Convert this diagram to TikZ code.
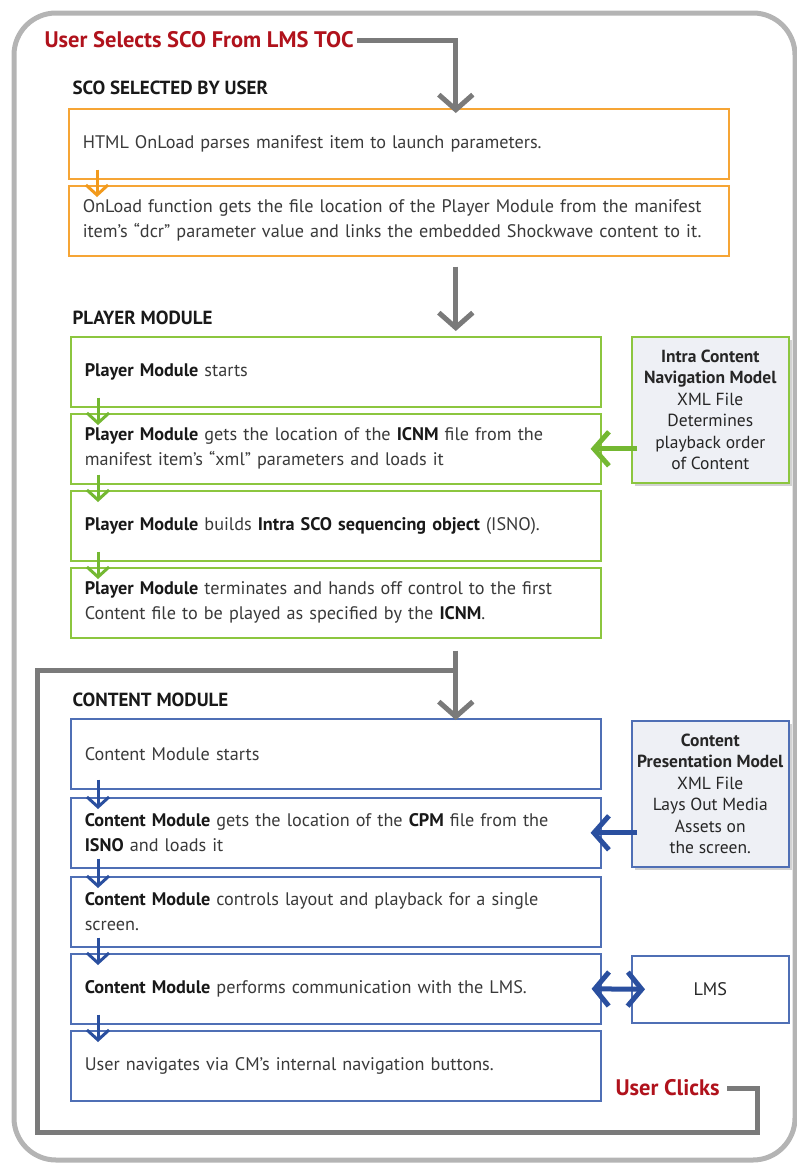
\documentclass[tikz,border=0pt]{standalone}
\usepackage{fontspec}
\setmainfont{PT Sans}
\usetikzlibrary{arrows.meta,shadows}
\definecolor{outerg}{HTML}{B4B4B4}
\definecolor{arrg}{HTML}{7A7A7A}
\definecolor{redt}{HTML}{B0121C}
\definecolor{orb}{HTML}{F6A535}
\definecolor{ora}{HTML}{F29A1C}
\definecolor{grb}{HTML}{8CC63F}
\definecolor{gra}{HTML}{74B832}
\definecolor{blb}{HTML}{4F6FB5}
\definecolor{bla}{HTML}{2A4F9F}
\definecolor{txt}{HTML}{3A3A3A}
\definecolor{sidefill}{HTML}{EEF0F5}
\tikzset{
  x=1pt,y=-1pt,
  body/.style={font=\fontsize{18.2}{25}\selectfont, text=txt},
  box/.style={draw, line width=1.6pt, fill=white, anchor=north west, minimum height=70pt,
     inner xsep=14pt, align=left, body},
  obox/.style={box, draw=orb, minimum width=660pt, text width=632pt},
  gbox/.style={box, draw=grb, minimum width=530pt, text width=502pt},
  bbox/.style={box, draw=blb, minimum width=530pt, text width=502pt},
  sidebox/.style={draw, line width=1.6pt, fill=sidefill, anchor=north west, minimum width=157pt,
     align=center, font=\fontsize{17.5}{21.5}\selectfont, text=black!85,
     drop shadow={shadow xshift=3pt, shadow yshift=-3pt, fill=black!35}},
  sectitle/.style={anchor=west, font=\bfseries\fontsize{19}{22}\selectfont, text=black!90},
  redlabel/.style={anchor=west, font=\bfseries\fontsize{22.5}{26}\selectfont, text=redt},
  bigarr/.style={draw=arrg, line width=5pt, -{Straight Barb[length=15pt,width=34pt,line width=5pt]}},
  loopline/.style={draw=arrg, line width=5pt, line join=miter},
  smallarr/.style={line width=3pt, -{Straight Barb[length=10pt,width=22pt,line width=3pt]}},
  sidearr/.style={line width=5pt, -{Straight Barb[length=15pt,width=34pt,line width=5pt]}},
  dblarr/.style={line width=5pt, {Straight Barb[length=14pt,width=34pt,line width=5pt]}-{Straight Barb[length=14pt,width=34pt,line width=5pt]}}
}
\begin{document}
\begin{tikzpicture}
\useasboundingbox (0,0) rectangle (797,1168);
% outer frame
\draw[outerg, line width=5pt, rounded corners=42pt] (14,13) rectangle (795,1160);

% top label
\node[redlabel] (usel) at (41,40) {User Selects SCO From LMS TOC};

% SCO section
\node[sectitle] (t1) at (69,88) {SCO SELECTED BY USER};
\node[obox] (o1) at (68,108) {HTML OnLoad parses manifest item to launch parameters.};
\node[obox] (o2) at (68,185) {OnLoad function gets the file location of the Player Module from the manifest\\item’s “dcr” parameter value and links the embedded Shockwave content to it.};

\draw[bigarr] (usel.east) -| ([xshift=57pt,yshift=-5pt]o1.north);
\draw[smallarr, draw=ora] ([xshift=29pt,yshift=10pt]o1.south west) -- ([xshift=29pt,yshift=-12pt]o2.north west);

% Player module
\node[sectitle] (t2) at (69,318) {PLAYER MODULE};
\node[gbox] (g1) at (70,336) {\textbf{\color{black!90}Player Module} starts};
\node[gbox] (g2) at (70,413) {\textbf{\color{black!90}Player Module} gets the location of the \textbf{\color{black!90}ICNM} file from the\\manifest item’s “xml” parameters and loads it};
\node[gbox] (g3) at (70,490) {\textbf{\color{black!90}Player Module} builds \textbf{\color{black!90}Intra SCO sequencing object} (ISNO).};
\node[gbox] (g4) at (70,567) {\textbf{\color{black!90}Player Module} terminates and hands off control to the first\\Content file to be played as specified by the \textbf{\color{black!90}ICNM}.};
\node[sidebox, draw=grb, minimum height=146pt] (icnm) at (631,336)
  {\textbf{Intra Content}\\\textbf{Navigation Model}\\XML File\\Determines\\playback order\\of Content};

\draw[bigarr] ([xshift=57pt,yshift=-10pt]o2.south) -- ([xshift=120pt,yshift=5pt]g1.north);
\foreach \a/\b in {g1/g2,g2/g3,g3/g4}
  \draw[smallarr, draw=gra] ([xshift=28pt,yshift=10pt]\a.south west) -- ([xshift=28pt,yshift=-12pt]\b.north west);
\draw[sidearr, draw=gra] ([xshift=6pt]icnm.west |- g2.east) -- ([xshift=-11pt]g2.east);

% Content module
\node[sectitle] (t3) at (69,700) {CONTENT MODULE};
\node[bbox] (b1) at (70,718) {Content Module starts};
\node[bbox] (b2) at (70,797) {\textbf{\color{black!90}Content Module} gets the location of the \textbf{\color{black!90}CPM} file from the\\\textbf{\color{black!90}ISNO} and loads it};
\node[bbox] (b3) at (70,876) {\textbf{\color{black!90}Content Module} controls layout and playback for a single\\screen.};
\node[bbox] (b4) at (70,953) {\textbf{\color{black!90}Content Module} performs communication with the LMS.};
\node[bbox] (b5) at (70,1030) {User navigates via CM’s internal navigation buttons.};
\node[sidebox, draw=blb, minimum height=146pt] (cpm) at (631,720)
  {\textbf{Content}\\\textbf{Presentation Model}\\XML File\\Lays Out Media\\Assets on\\the screen.};
\node[draw=blb, line width=1.6pt, fill=white, anchor=north west, minimum width=157pt, minimum height=67pt,
  body, text=black!85] (lms) at (631,955) {LMS};

\foreach \a/\b in {b1/b2,b2/b3,b3/b4,b4/b5}
  \draw[smallarr, draw=bla] ([xshift=28pt,yshift=10pt]\a.south west) -- ([xshift=28pt,yshift=-12pt]\b.north west);
\draw[sidearr, draw=bla] ([xshift=6pt]cpm.west |- b2.east) -- ([xshift=-11pt]b2.east);
\draw[dblarr, draw=bla] ([xshift=-10pt]b4.east) -- ([xshift=14pt]lms.west);

% loop back
\node[redlabel] (uc) at (612,1088) {User Clicks};
\coordinate (lr) at (757,1132);
\coordinate (ll) at (37,1132);
\coordinate (lt) at (37,670);
\coordinate (jn) at (457,670);
\draw[loopline] ([xshift=4pt]uc.east) -| (lr) -- (ll) -- (lt) -- (jn);
\draw[bigarr] ([xshift=120pt,yshift=-12pt]g4.south) -- ([xshift=120pt,yshift=-2pt]b1.north);
\end{tikzpicture}
\end{document}
